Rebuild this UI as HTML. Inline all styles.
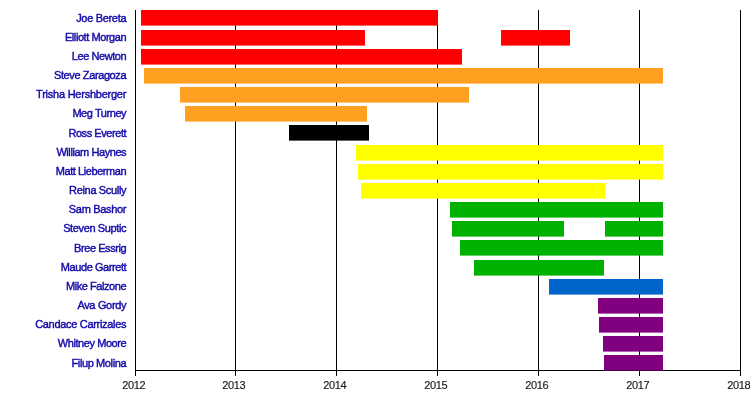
<!DOCTYPE html><html><head><meta charset="utf-8"><style>html,body{margin:0;padding:0;background:#fff;width:750px;height:400px;overflow:hidden}svg{display:block}text{font-family:"Liberation Sans",Arial,sans-serif;stroke-width:0.42px;paint-order:stroke}</style></head><body>
<svg width="750" height="400" viewBox="0 0 750 400">
<rect width="750" height="400" fill="#fff"/>
<rect x="135" y="10" width="1" height="366" fill="#000"/><rect x="235" y="10" width="1" height="366" fill="#000"/><rect x="336" y="10" width="1" height="366" fill="#000"/><rect x="437" y="10" width="1" height="366" fill="#000"/><rect x="538" y="10" width="1" height="366" fill="#000"/><rect x="639" y="10" width="1" height="366" fill="#000"/><rect x="740" y="10" width="1" height="366" fill="#000"/><rect x="135" y="370" width="606" height="1" fill="#000"/>
<rect x="141" y="10" width="297" height="15.6" fill="#FF0000"/><rect x="141" y="30" width="224" height="15.6" fill="#FF0000"/><rect x="501" y="30" width="69" height="15.6" fill="#FF0000"/><rect x="141" y="49" width="321" height="15.6" fill="#FF0000"/><rect x="144" y="68" width="519" height="15.6" fill="#FFA020"/><rect x="180" y="87" width="289" height="15.6" fill="#FFA020"/><rect x="185" y="106" width="182" height="15.6" fill="#FFA020"/><rect x="289" y="125" width="80" height="15.6" fill="#000000"/><rect x="356" y="145" width="307" height="15.6" fill="#FFFF00"/><rect x="358" y="164" width="305" height="15.6" fill="#FFFF00"/><rect x="361" y="183" width="244" height="15.6" fill="#FFFF00"/><rect x="450" y="202" width="213" height="15.6" fill="#00B200"/><rect x="452" y="221" width="112" height="15.6" fill="#00B200"/><rect x="605" y="221" width="58" height="15.6" fill="#00B200"/><rect x="460" y="240" width="203" height="15.6" fill="#00B200"/><rect x="474" y="260" width="130" height="15.6" fill="#00B200"/><rect x="549" y="279" width="114" height="15.6" fill="#0066CC"/><rect x="598" y="298" width="65" height="15.6" fill="#800080"/><rect x="599" y="317" width="64" height="15.6" fill="#800080"/><rect x="603" y="336" width="60" height="15.6" fill="#800080"/><rect x="604" y="355" width="59" height="15.6" fill="#800080"/>
<g style="will-change:transform"><text x="126.2" y="21.60" text-anchor="end" font-size="11" letter-spacing="-0.319" fill="#140aa8" stroke="#140aa8">Joe Bereta</text><text x="126.2" y="40.77" text-anchor="end" font-size="11" letter-spacing="-0.43" fill="#140aa8" stroke="#140aa8">Elliott Morgan</text><text x="126.2" y="59.93" text-anchor="end" font-size="11" letter-spacing="-0.43" fill="#140aa8" stroke="#140aa8">Lee Newton</text><text x="126.2" y="79.10" text-anchor="end" font-size="11" letter-spacing="-0.392" fill="#140aa8" stroke="#140aa8">Steve Zaragoza</text><text x="126.2" y="98.27" text-anchor="end" font-size="11" letter-spacing="-0.236" fill="#140aa8" stroke="#140aa8">Trisha Hershberger</text><text x="126.2" y="117.43" text-anchor="end" font-size="11" letter-spacing="-0.43" fill="#140aa8" stroke="#140aa8">Meg Turney</text><text x="126.2" y="136.60" text-anchor="end" font-size="11" letter-spacing="-0.43" fill="#140aa8" stroke="#140aa8">Ross Everett</text><text x="126.2" y="155.77" text-anchor="end" font-size="11" letter-spacing="-0.43" fill="#140aa8" stroke="#140aa8">William Haynes</text><text x="126.2" y="174.93" text-anchor="end" font-size="11" letter-spacing="-0.43" fill="#140aa8" stroke="#140aa8">Matt Lieberman</text><text x="126.2" y="194.10" text-anchor="end" font-size="11" letter-spacing="-0.339" fill="#140aa8" stroke="#140aa8">Reina Scully</text><text x="126.2" y="213.27" text-anchor="end" font-size="11" letter-spacing="-0.319" fill="#140aa8" stroke="#140aa8">Sam Bashor</text><text x="126.2" y="232.43" text-anchor="end" font-size="11" letter-spacing="-0.372" fill="#140aa8" stroke="#140aa8">Steven Suptic</text><text x="126.2" y="251.60" text-anchor="end" font-size="11" letter-spacing="-0.43" fill="#140aa8" stroke="#140aa8">Bree Essrig</text><text x="126.2" y="270.77" text-anchor="end" font-size="11" letter-spacing="-0.43" fill="#140aa8" stroke="#140aa8">Maude Garrett</text><text x="126.2" y="289.93" text-anchor="end" font-size="11" letter-spacing="-0.43" fill="#140aa8" stroke="#140aa8">Mike Falzone</text><text x="126.2" y="309.10" text-anchor="end" font-size="11" letter-spacing="-0.33" fill="#140aa8" stroke="#140aa8">Ava Gordy</text><text x="126.2" y="328.27" text-anchor="end" font-size="11" letter-spacing="-0.31" fill="#140aa8" stroke="#140aa8">Candace Carrizales</text><text x="126.2" y="347.43" text-anchor="end" font-size="11" letter-spacing="-0.43" fill="#140aa8" stroke="#140aa8">Whitney Moore</text><text x="126.2" y="366.60" text-anchor="end" font-size="11" letter-spacing="-0.385" fill="#140aa8" stroke="#140aa8">Filup Molina</text><text x="133.8" y="389" text-anchor="middle" font-size="11" letter-spacing="-0.3" fill="#1a1a1a" stroke="#1a1a1a" style="stroke-width:0.15px">2012</text><text x="233.8" y="389" text-anchor="middle" font-size="11" letter-spacing="-0.3" fill="#1a1a1a" stroke="#1a1a1a" style="stroke-width:0.15px">2013</text><text x="334.8" y="389" text-anchor="middle" font-size="11" letter-spacing="-0.3" fill="#1a1a1a" stroke="#1a1a1a" style="stroke-width:0.15px">2014</text><text x="435.8" y="389" text-anchor="middle" font-size="11" letter-spacing="-0.3" fill="#1a1a1a" stroke="#1a1a1a" style="stroke-width:0.15px">2015</text><text x="536.8" y="389" text-anchor="middle" font-size="11" letter-spacing="-0.3" fill="#1a1a1a" stroke="#1a1a1a" style="stroke-width:0.15px">2016</text><text x="637.8" y="389" text-anchor="middle" font-size="11" letter-spacing="-0.3" fill="#1a1a1a" stroke="#1a1a1a" style="stroke-width:0.15px">2017</text><text x="738.8" y="389" text-anchor="middle" font-size="11" letter-spacing="-0.3" fill="#1a1a1a" stroke="#1a1a1a" style="stroke-width:0.15px">2018</text></g>
</svg></body></html>
